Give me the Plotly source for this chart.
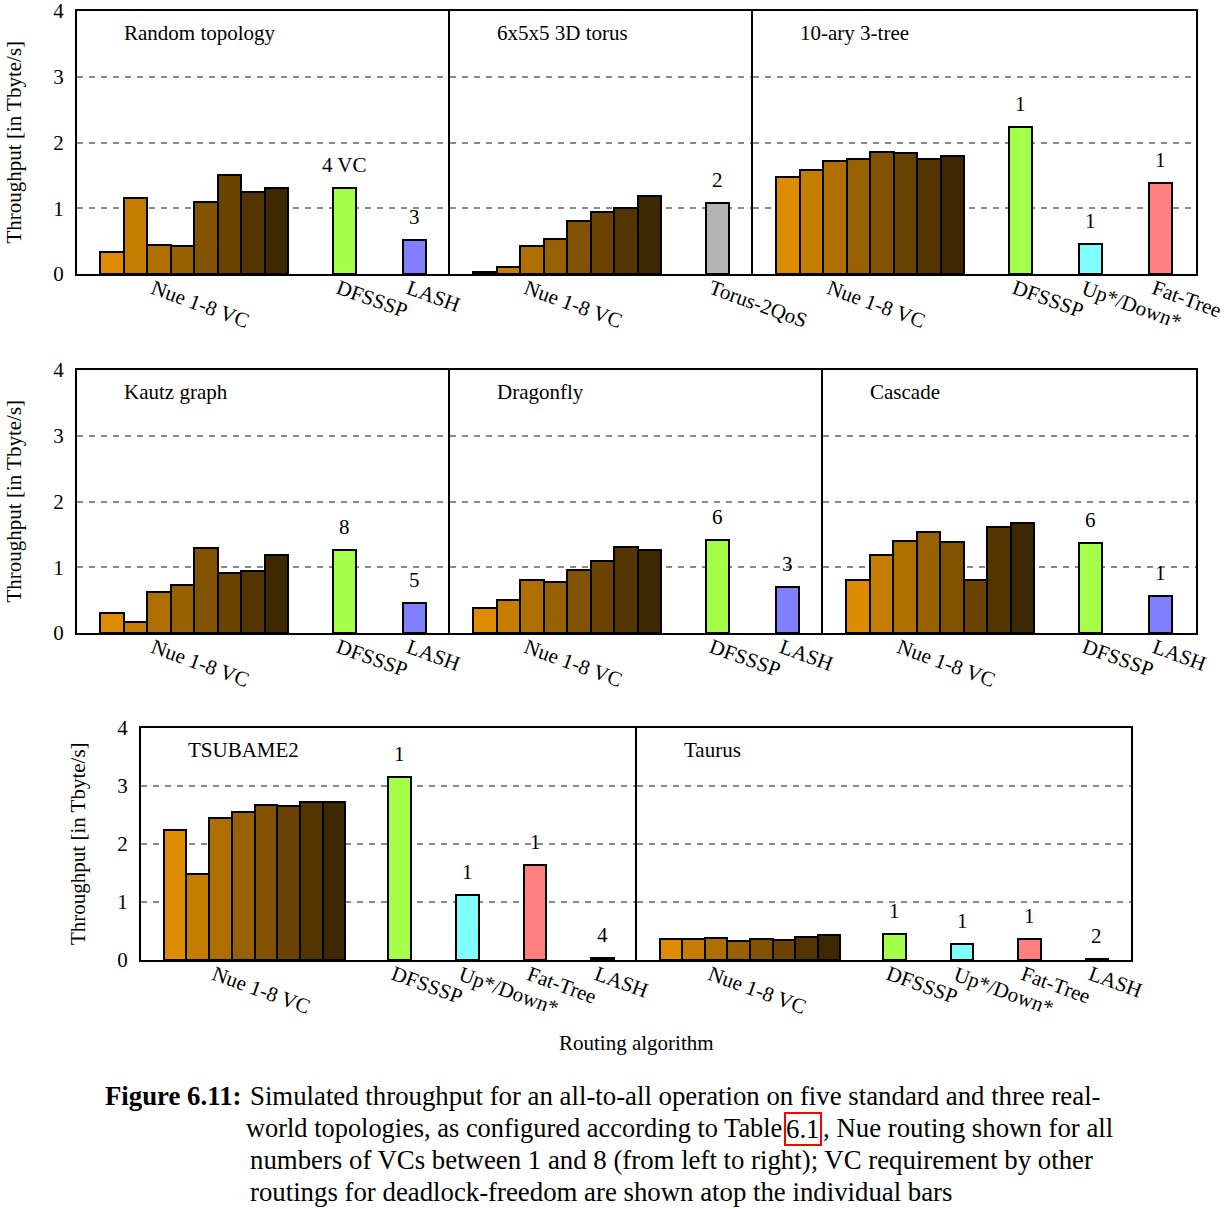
import plotly.graph_objects as go

# ------------------------------------------------------------------ data
nue_label = "Nue 1-8 VC"

random_nue = [0.34, 1.16, 0.44, 0.43, 1.10, 1.51, 1.25, 1.31]
random_other = ["DFSSSP", "LASH"]
random_vals = [1.31, 0.51]
random_vcs = ["4 VC", "3"]

torus_nue = [0.03, 0.10, 0.43, 0.53, 0.80, 0.95, 1.00, 1.18]
torus_other = ["Torus-2QoS"]
torus_vals = [1.08]
torus_vcs = ["2"]

tree_nue = [1.47, 1.58, 1.72, 1.75, 1.86, 1.84, 1.75, 1.79]
tree_other = ["DFSSSP", "Up*/Down*", "Fat-Tree"]
tree_vals = [2.23, 0.45, 1.38]
tree_vcs = ["1", "1", "1"]

kautz_nue = [0.30, 0.17, 0.63, 0.73, 1.30, 0.91, 0.94, 1.18]
kautz_other = ["DFSSSP", "LASH"]
kautz_vals = [1.26, 0.46]
kautz_vcs = ["8", "5"]

dragonfly_nue = [0.38, 0.50, 0.81, 0.77, 0.96, 1.10, 1.31, 1.26]
dragonfly_other = ["DFSSSP", "LASH"]
dragonfly_vals = [1.42, 0.70]
dragonfly_vcs = ["6", "3"]

cascade_nue = [0.80, 1.18, 1.40, 1.53, 1.39, 0.80, 1.61, 1.67]
cascade_other = ["DFSSSP", "LASH"]
cascade_vals = [1.37, 0.57]
cascade_vcs = ["6", "1"]

tsubame_nue = [2.24, 1.48, 2.44, 2.56, 2.68, 2.66, 2.72, 2.72]
tsubame_other = ["DFSSSP", "Up*/Down*", "Fat-Tree", "LASH"]
tsubame_vals = [3.15, 1.12, 1.63, 0.03]
tsubame_vcs = ["1", "1", "1", "4"]

taurus_nue = [0.36, 0.36, 0.38, 0.33, 0.37, 0.34, 0.40, 0.43]
taurus_other = ["DFSSSP", "Up*/Down*", "Fat-Tree", "LASH"]
taurus_vals = [0.44, 0.27, 0.37, 0.02]
taurus_vcs = ["1", "1", "1", "2"]

titles = ["Random topology", "6x5x5 3D torus", "10-ary 3-tree",
          "Kautz graph", "Dragonfly", "Cascade", "TSUBAME2", "Taurus"]

y_ticks = [0, 1, 2, 3, 4]
y_title = "Throughput [in Tbyte/s]"
x_title = "Routing algorithm"

caption_head = "Figure 6.11:"
caption_l1 = "Simulated throughput for an all-to-all operation on five standard and three real-"
caption_l2a = "world topologies, as configured according to Table"
caption_ref = "6.1"
caption_l2c = ", Nue routing shown for all"
caption_l3 = "numbers of VCs between 1 and 8 (from left to right); VC requirement by other"
caption_l4 = "routings for deadlock-freedom are shown atop the individual bars"

# ------------------------------------------------------------------ styles
W, H = 1225, 1209
FONT = "Liberation Serif, Times New Roman, serif"
FS = 21
nue_colors = ["#DD8C00", "#C57D00", "#AE6F00", "#976000",
              "#815200", "#6A4300", "#543500", "#3E2800"]
other_colors = {"DFSSSP": "#A3FF47", "LASH": "#8080FF", "Up*/Down*": "#80FFFF",
                "Fat-Tree": "#FF8080", "Torus-2QoS": "#B3B3B3"}

panels = [
    (random_nue, random_other, random_vals, random_vcs),
    (torus_nue, torus_other, torus_vals, torus_vcs),
    (tree_nue, tree_other, tree_vals, tree_vcs),
    (kautz_nue, kautz_other, kautz_vals, kautz_vcs),
    (dragonfly_nue, dragonfly_other, dragonfly_vals, dragonfly_vcs),
    (cascade_nue, cascade_other, cascade_vals, cascade_vcs),
    (tsubame_nue, tsubame_other, tsubame_vals, tsubame_vcs),
    (taurus_nue, taurus_other, taurus_vals, taurus_vcs),
]

# pixel geometry of panels: (x0, x1, y_top, y_bottom, first_in_row, last_in_row)
geom = [
    (77, 450, 11, 274, True, False), (450, 753, 11, 274, False, False),
    (753, 1196, 11, 274, False, True),
    (77, 450, 370, 633, True, False), (450, 823, 370, 633, False, False),
    (823, 1196, 370, 633, False, True),
    (141, 637, 728, 960, True, False), (637, 1131, 728, 960, False, True),
]

def px(x):
    return x / W

def py(y):
    return 1 - y / H

fig = go.Figure()
annotations = []
layout = {}
tfont = dict(family=FONT, size=FS, color="black")

for i, ((nue, others, vals, vcs), (x0, x1, yt, yb, first, last)) in enumerate(zip(panels, geom)):
    k = "" if i == 0 else str(i + 1)
    xa, ya = "x" + k, "y" + k
    n = len(others)
    nue_x = [1.5 + j for j in range(len(nue))]
    oth_x = [11.4 + 2.98 * j for j in range(n)]
    xmax = 9.93 + 2.98 * n

    fig.add_trace(go.Bar(x=nue_x, y=nue, width=1, xaxis=xa, yaxis=ya,
                         marker=dict(color=nue_colors, line=dict(color="black", width=2)),
                         showlegend=False, hoverinfo="y"))
    fig.add_trace(go.Bar(x=oth_x, y=vals, width=1, xaxis=xa, yaxis=ya,
                         marker=dict(color=[other_colors[o] for o in others],
                                     line=dict(color="black", width=2)),
                         showlegend=False, hovertext=others, hoverinfo="text+y"))

    layout["xaxis" + k] = dict(domain=[px(x0), px(x1)], range=[0, xmax], anchor=ya,
                               showticklabels=False, ticks="", showgrid=False, zeroline=False,
                               showline=True, mirror=True, linecolor="black", linewidth=2,
                               automargin=False, fixedrange=True)
    layout["yaxis" + k] = dict(domain=[py(yb), py(yt)], range=[0, 4], anchor=xa,
                               tickvals=y_ticks, ticktext=[str(t) for t in y_ticks],
                               showticklabels=first, ticks="", ticklabelstandoff=7,
                               ticklabeloverflow="allow", tickfont=tfont,
                               showgrid=True, gridcolor="#8a8a8a", gridwidth=2,
                               griddash="6px,6px", zeroline=False,
                               showline=True, mirror=last, linecolor="black", linewidth=2,
                               automargin=False, fixedrange=True)

    # panel title
    annotations.append(dict(text=titles[i], xref=xa + " domain", yref=ya + " domain",
                            x=0, y=1, xshift=45, yshift=-22, xanchor="left", yanchor="middle",
                            showarrow=False, font=tfont))
    # rotated category labels
    annotations.append(dict(text=nue_label, xref=xa, yref=ya, x=nue_x[2], y=0,
                            xanchor="left", yanchor="top", xshift=-14, yshift=1, textangle=20,
                            showarrow=False, font=tfont))
    for ox, name, v, vc in zip(oth_x, others, vals, vcs):
        annotations.append(dict(text=name, xref=xa, yref=ya, x=ox, y=0,
                                xanchor="left", yanchor="top", xshift=-14, yshift=1, textangle=20,
                                showarrow=False, font=tfont))
        annotations.append(dict(text=vc, xref=xa, yref=ya, x=ox, y=v,
                                xanchor="center", yanchor="bottom", yshift=9,
                                showarrow=False, font=tfont))

# y titles per row
for xpx, (ytop, ybot) in [(14, (11, 274)), (14, (370, 633)), (78, (728, 960))]:
    annotations.append(dict(text=y_title, xref="paper", yref="paper",
                            x=px(xpx), y=py((ytop + ybot) / 2), textangle=-90,
                            xanchor="center", yanchor="middle", showarrow=False, font=tfont))

annotations.append(dict(text=x_title, xref="paper", yref="paper", x=px(636), y=py(1043),
                        xanchor="center", yanchor="middle", showarrow=False, font=tfont))

# caption
cap_font = dict(family=FONT, size=26.8, color="black")
annotations.append(dict(text="<b>" + caption_head + "</b>", xref="paper", yref="paper",
                        x=px(243), y=py(1096), xanchor="right", yanchor="middle",
                        showarrow=False, font=cap_font))
for txt, ypx in [(caption_l1, 1096), (caption_l3, 1160), (caption_l4, 1192)]:
    annotations.append(dict(text=txt, xref="paper", yref="paper", x=px(248), y=py(ypx),
                            xanchor="left", yanchor="middle", showarrow=False, font=cap_font))
annotations.append(dict(text=caption_l2a, xref="paper", yref="paper", x=px(784), y=py(1128),
                        xanchor="right", yanchor="middle", showarrow=False,
                        font=dict(family=FONT, size=26.4, color="black")))
annotations.append(dict(text=caption_ref, xref="paper", yref="paper", x=px(803), y=py(1129),
                        xanchor="center", yanchor="middle", showarrow=False, font=cap_font,
                        bordercolor="red", borderwidth=2, borderpad=0))
annotations.append(dict(text=caption_l2c, xref="paper", yref="paper", x=px(821), y=py(1128),
                        xanchor="left", yanchor="middle", showarrow=False, font=cap_font))

fig.update_layout(width=W, height=H, margin=dict(l=0, r=0, t=0, b=0, autoexpand=False),
                  paper_bgcolor="white", plot_bgcolor="white", bargap=0,
                  annotations=annotations, **layout)

fig.write_html("out.html")
